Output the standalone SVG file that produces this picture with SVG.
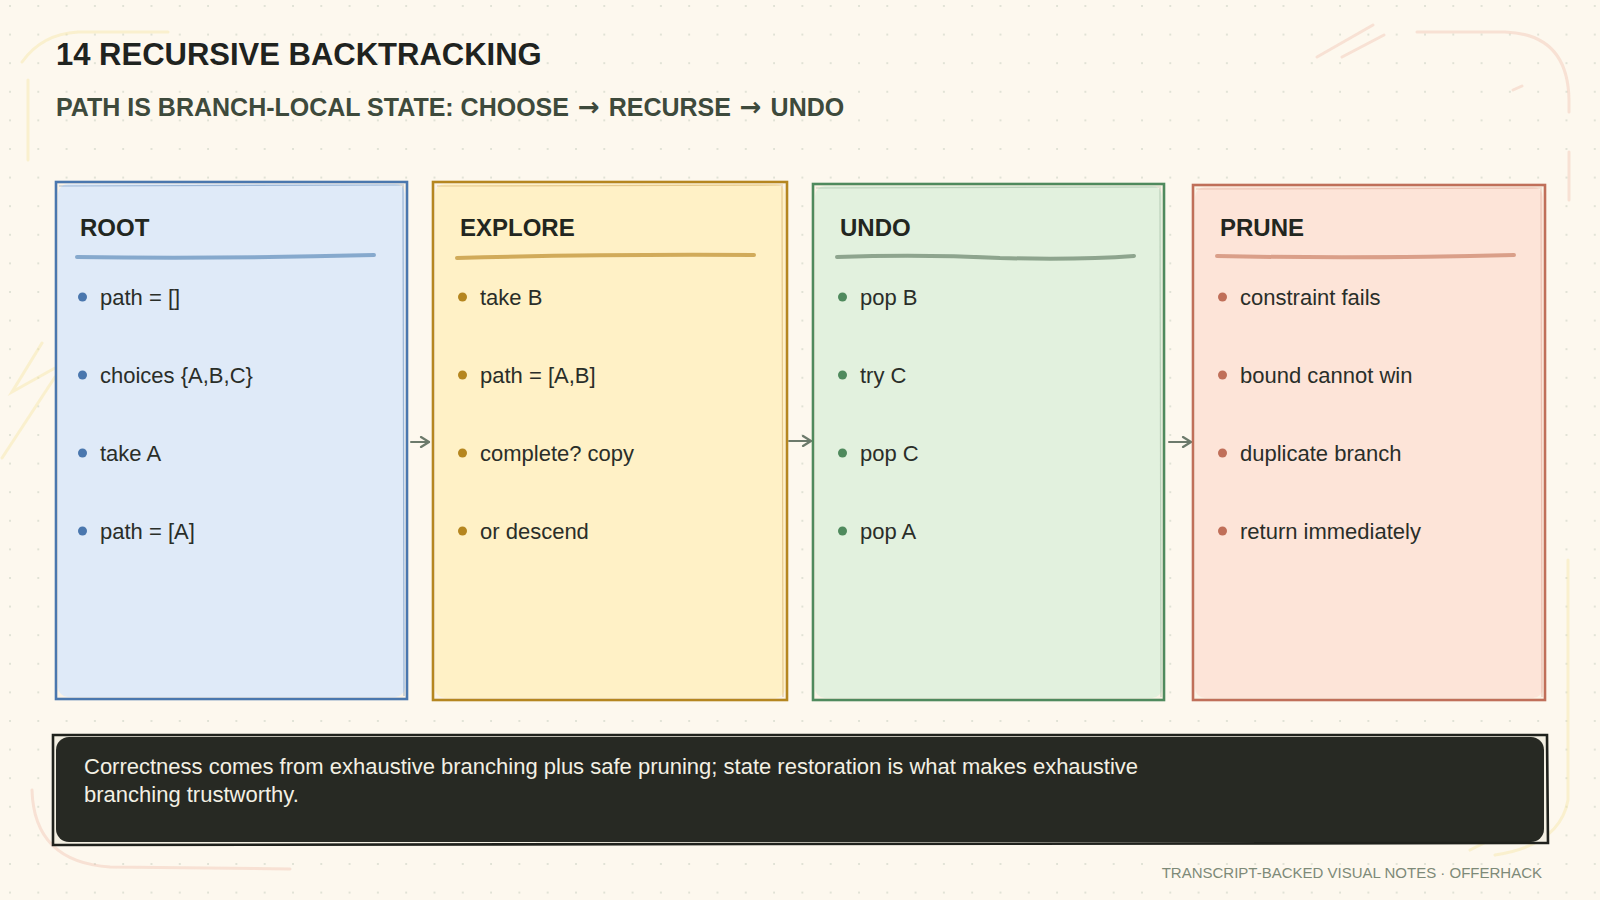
<svg xmlns="http://www.w3.org/2000/svg" width="1600" height="900" viewBox="0 0 1600 900">
  <defs>
    <pattern id="dots" x="8" y="4" width="28.3" height="28.6" patternUnits="userSpaceOnUse">
      <circle cx="2" cy="2" r="1" fill="#d9dccf"/>
    </pattern>
    <marker id="chev" viewBox="0 0 12 12" refX="10" refY="6" markerWidth="12" markerHeight="12" markerUnits="userSpaceOnUse" orient="auto">
      <path d="M2,1 L10,6 L2,11" fill="none" stroke="#6c7a6b" stroke-width="2.2" stroke-linecap="round" stroke-linejoin="round"/>
    </marker>
    <style>
      .title{font-family:"Liberation Sans",Arial,sans-serif;font-weight:700;font-size:31px;fill:#1f231f}
      .sub{font-family:"Liberation Sans",Arial,sans-serif;font-weight:700;font-size:25px;fill:#3e4a3c}
      .arr{font-family:"DejaVu Sans",sans-serif;font-weight:700;font-size:26px}
      .head{font-family:"Liberation Sans",Arial,sans-serif;font-weight:700;font-size:24px;fill:#222620}
      .item{font-family:"Liberation Sans",Arial,sans-serif;font-size:22px;fill:#2a2e29}
      .note{font-family:"Liberation Sans",Arial,sans-serif;font-size:22px;fill:#f3f0e4}
      .foot{font-family:"Liberation Sans",Arial,sans-serif;font-size:15px;fill:#7e8a78}
      .frame{fill:#fbf3e6}
      .edge{fill:none;stroke-width:2.6}
      .edge2{fill:none;stroke-width:1.2;opacity:0.45}
      .rule{fill:none;stroke-width:4;stroke-linecap:round;opacity:0.85}
      .conn{fill:none;stroke:#6c7a6b;stroke-width:2;stroke-linecap:round}
      .deco-p{fill:none;stroke:#efb6a3;stroke-width:3;stroke-linecap:round;opacity:0.35}
      .deco-y{fill:none;stroke:#f6e6a6;stroke-width:3;stroke-linecap:round;opacity:0.45}
    </style>
  </defs>

  <rect x="0" y="0" width="1600" height="900" fill="#fdf8ee"/>
  <rect x="0" y="0" width="1600" height="900" fill="url(#dots)"/>

  <g id="decoration">
    <path class="deco-p" d="M1417 32 L1505 32 Q1568 34 1569 100 L1569 112"/>
    <path class="deco-p" d="M1569 152 L1569 200"/>
    <path class="deco-p" d="M1317 57 L1373 25 M1342 57 L1384 35"/>
    <path class="deco-p" d="M1513 90 L1522 86" stroke-width="2"/>
    <path class="deco-p" d="M32 790 Q34 862 110 867 L290 869"/>
    <path class="deco-y" d="M22 62 Q42 34 78 32 L168 32"/>
    <path class="deco-y" d="M28 80 L28 160"/>
    <path class="deco-y" d="M42 343 L12 392 L55 368 M55 377 L2 458"/>
    <path class="deco-y" d="M1568 560 L1568 800 Q1560 845 1495 855 M1470 850 L1540 815"/>
  </g>

  <g id="header">
    <text class="title" x="56" y="65">14 RECURSIVE BACKTRACKING</text>
    <text class="sub" x="56" y="116">PATH IS BRANCH-LOCAL STATE: CHOOSE <tspan class="arr" dx="2">→</tspan><tspan dx="2"> RECURSE </tspan><tspan class="arr" dx="2">→</tspan><tspan dx="2"> UNDO</tspan></text>
  </g>

  <g id="connectors">
    <path class="conn" d="M411 442 L429 442" marker-end="url(#chev)"/>
    <path class="conn" d="M789 441 L811 441" marker-end="url(#chev)"/>
    <path class="conn" d="M1169 442 L1191 442" marker-end="url(#chev)"/>
  </g>

  <g id="node-root">
    <rect class="frame" x="56" y="182" width="351" height="517"/>
    <rect x="58" y="184" width="347" height="513" rx="10" fill="#dfeaf8"/>
    <rect class="edge" x="56" y="182" width="351" height="517" stroke="#4a77ae"/>
    <path class="edge2" d="M59 186 L404 185 M403 186 L404 696" stroke="#4a77ae"/>
    <text class="head" x="80" y="236">ROOT</text>
    <path class="rule" d="M77 257 Q220 259 374 255" stroke="#779dc6"/>
    <g fill="#4a77ae">
      <circle cx="82.5" cy="297" r="4.5"/><circle cx="82.5" cy="375" r="4.5"/><circle cx="82.5" cy="453" r="4.5"/><circle cx="82.5" cy="531" r="4.5"/>
    </g>
    <text class="item" x="100" y="305">path = []</text>
    <text class="item" x="100" y="383">choices {A,B,C}</text>
    <text class="item" x="100" y="461">take A</text>
    <text class="item" x="100" y="539">path = [A]</text>
  </g>

  <g id="node-explore">
    <rect class="frame" x="433" y="182" width="354" height="518"/>
    <rect x="435" y="184" width="350" height="514" rx="10" fill="#fff1c6"/>
    <rect class="edge" x="433" y="182" width="354" height="518" stroke="#b5861f"/>
    <path class="edge2" d="M437 186 L783 185 M782 186 L783 697" stroke="#c79a4a"/>
    <text class="head" x="460" y="236">EXPLORE</text>
    <path class="rule" d="M457 258 Q600 254 754 255" stroke="#c99f47"/>
    <g fill="#b5861f">
      <circle cx="462.5" cy="297" r="4.5"/><circle cx="462.5" cy="375" r="4.5"/><circle cx="462.5" cy="453" r="4.5"/><circle cx="462.5" cy="531" r="4.5"/>
    </g>
    <text class="item" x="480" y="305">take B</text>
    <text class="item" x="480" y="383">path = [A,B]</text>
    <text class="item" x="480" y="461">complete? copy</text>
    <text class="item" x="480" y="539">or descend</text>
  </g>

  <g id="node-undo">
    <rect class="frame" x="813" y="184" width="351" height="516"/>
    <rect x="815" y="186" width="347" height="512" rx="10" fill="#e2f1de"/>
    <rect class="edge" x="813" y="184" width="351" height="516" stroke="#4f8a5d"/>
    <path class="edge2" d="M816 188 L1161 187 M1160 188 L1161 697" stroke="#8aa88f"/>
    <text class="head" x="840" y="236">UNDO</text>
    <path class="rule" d="M837 257 Q920 254 1000 258 Q1080 260 1134 256" stroke="#7f9880"/>
    <g fill="#4f8a5d">
      <circle cx="842.5" cy="297" r="4.5"/><circle cx="842.5" cy="375" r="4.5"/><circle cx="842.5" cy="453" r="4.5"/><circle cx="842.5" cy="531" r="4.5"/>
    </g>
    <text class="item" x="860" y="305">pop B</text>
    <text class="item" x="860" y="383">try C</text>
    <text class="item" x="860" y="461">pop C</text>
    <text class="item" x="860" y="539">pop A</text>
  </g>

  <g id="node-prune">
    <rect class="frame" x="1193" y="185" width="352" height="515"/>
    <rect x="1195" y="187" width="348" height="511" rx="10" fill="#fde4d8"/>
    <rect class="edge" x="1193" y="185" width="352" height="515" stroke="#c06f59"/>
    <path class="edge2" d="M1196 189 L1542 188 M1541 189 L1542 697" stroke="#d89a84"/>
    <text class="head" x="1220" y="236">PRUNE</text>
    <path class="rule" d="M1217 256 Q1360 259 1514 255" stroke="#d3937b"/>
    <g fill="#c06f59">
      <circle cx="1222.5" cy="297" r="4.5"/><circle cx="1222.5" cy="375" r="4.5"/><circle cx="1222.5" cy="453" r="4.5"/><circle cx="1222.5" cy="531" r="4.5"/>
    </g>
    <text class="item" x="1240" y="305">constraint fails</text>
    <text class="item" x="1240" y="383">bound cannot win</text>
    <text class="item" x="1240" y="461">duplicate branch</text>
    <text class="item" x="1240" y="539">return immediately</text>
  </g>

  <g id="note">
    <rect x="53" y="735" width="1494" height="109" fill="#f3efe2"/>
    <rect x="56" y="737" width="1488" height="105" rx="13" fill="#272923"/>
    <path d="M53 735 L1547 735 L1548 843 L53 845 Z" fill="none" stroke="#1f211c" stroke-width="2.6"/>
    <text class="note" x="84" y="774">Correctness comes from exhaustive branching plus safe pruning; state restoration is what makes exhaustive</text>
    <text class="note" x="84" y="802">branching trustworthy.</text>
  </g>

  <g id="footer">
    <text class="foot" x="1542" y="878" text-anchor="end">TRANSCRIPT-BACKED VISUAL NOTES · OFFERHACK</text>
  </g>
</svg>
